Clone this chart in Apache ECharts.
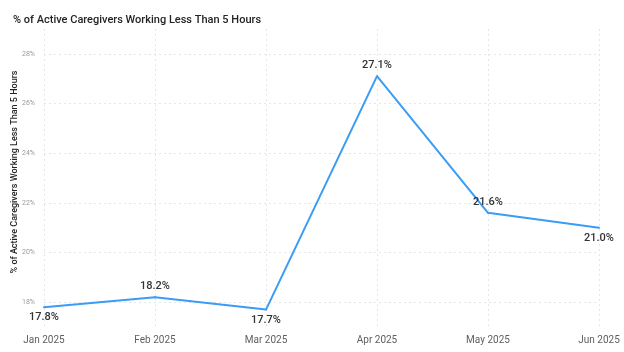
<!DOCTYPE html>
<html>
<head>
<meta charset="utf-8">
<style>
  html, body { margin: 0; padding: 0; background: #fff; }
  #chart { width: 624px; height: 352px; }
</style>
<script src="https://cdn.jsdelivr.net/npm/echarts@6/dist/echarts.min.js"></script>
</head>
<body>
<div id="chart"></div>
<script>
// chart data
const months = ['Jan 2025', 'Feb 2025', 'Mar 2025', 'Apr 2025', 'May 2025', 'Jun 2025']
const pctValues = [17.8, 18.2, 17.7, 27.1, 21.6, 21.0]
const labelPos = ['bottom', 'top', 'bottom', 'top', 'top', 'bottom']
const yTicks = [18, 20, 22, 24, 26, 28]

const chart = echarts.init(document.getElementById('chart'))
const font = 'Roboto, "Open Sans", sans-serif'

const option = {
  animation: false,
  textStyle: { fontFamily: font },
  title: {
    text: '% of Active Caregivers Working Less Than 5 Hours',
    left: 8,
    top: 10,
    textStyle: { fontSize: 11, fontWeight: 500, color: '#252423', fontFamily: font }
  },
  grid: { left: 44, right: 25, top: 29, bottom: 25, containLabel: false, outerBoundsMode: 'none' },
  xAxis: {
    type: 'category',
    data: months,
    boundaryGap: false,
    axisLine: { show: false },
    axisTick: { show: false },
    axisLabel: { color: '#605e5c', fontSize: 10, margin: 8 },
    splitLine: { show: true, lineStyle: { color: '#e6e6e6', type: [2, 3], width: 1 } }
  },
  yAxis: {
    type: 'value',
    min: 17,
    max: 29,
    name: '% of Active Caregivers Working Less Than 5 Hours',
    nameLocation: 'middle',
    nameGap: 25,
    nameMoveOverlap: false,
    nameTextStyle: { color: '#252423', fontSize: 9, fontWeight: 500, fontFamily: font, padding: [0, 0, 0, 12] },
    axisLine: { show: false },
    axisTick: { show: false, customValues: yTicks },
    axisLabel: {
      customValues: yTicks,
      color: '#999',
      fontSize: 7,
      margin: 9,
      formatter: v => v + '%'
    },
    splitLine: { show: true, lineStyle: { color: '#e6e6e6', type: [2, 3], width: 1 } }
  },
  series: [{
    type: 'line',
    data: pctValues.map((v, i) => ({ value: v, label: { position: labelPos[i] } })),
    showSymbol: true,
    symbol: 'circle',
    symbolSize: 2,
    lineStyle: { color: '#3a9cf5', width: 2 },
    itemStyle: { color: '#3a9cf5' },
    label: {
      show: true,
      color: '#333',
      fontSize: 11,
      fontWeight: 500,
      distance: 4,
      formatter: p => p.value.toFixed(1) + '%'
    }
  }]
}
chart.setOption(option)
</script>
</body>
</html>
